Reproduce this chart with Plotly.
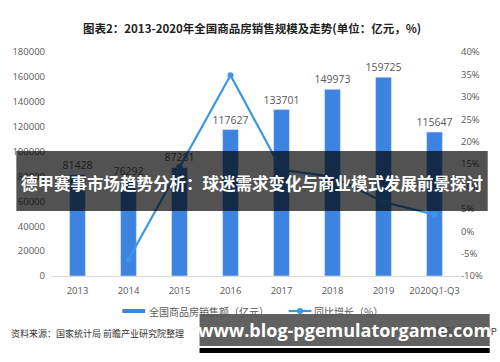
import plotly.graph_objects as go

categories = ["2013", "2014", "2015", "2016", "2017", "2018", "2019", "2020Q1-Q3"]
sales = [81428, 76292, 87281, 117627, 133701, 149973, 159725, 115647]
growth_cats = ["2014", "2015", "2016", "2017", "2018", "2019", "2020Q1-Q3"]
growth = [-6.3, 14.4, 34.8, 13.7, 12.2, 6.5, 3.7]
left_ticks = [0, 20000, 40000, 60000, 80000, 100000, 120000, 140000, 160000, 180000]
right_ticks = [-10, -5, 0, 5, 10, 15, 20, 25, 30, 35, 40]

W, H = 500, 362
L, R, T, B = 48, 40, 52, 86
PW, PH = W - L - R, H - T - B

def px(x):
    return (x - L) / PW

def py(y):
    return (H - B - y) / PH

BAR = "#3d83e1"
LINE = "#3a97e6"
GRAY = "#595959"
FONT = "Noto Sans CJK SC"
NUMF = "Open Sans"

fig = go.Figure()
fig.add_trace(go.Bar(
    x=categories, y=sales, marker_color=BAR, width=0.31,
    text=[str(v) for v in sales], textposition="outside", constraintext="none",
    textfont=dict(size=10.5, color=GRAY, family=NUMF),
    cliponaxis=False, showlegend=False,
))
fig.add_trace(go.Scatter(
    x=growth_cats, y=growth, yaxis="y2", mode="lines+markers",
    line=dict(color=LINE, width=2.2), marker=dict(size=6, color=LINE),
    showlegend=False,
))

fig.update_layout(
    width=W, height=H, margin=dict(l=L, r=R, t=T, b=B),
    paper_bgcolor="white", plot_bgcolor="white",
    font=dict(family=FONT, color=GRAY, size=10),
    xaxis=dict(showgrid=False, showline=True, linecolor="#d9d9d9", linewidth=1,
               ticks="", ticklabelstandoff=6,
               tickfont=dict(size=9.5, family=NUMF, color=GRAY)),
    yaxis=dict(range=[0, 180000], tickmode="array", tickvals=left_ticks,
               ticktext=[str(v) for v in left_ticks], showgrid=False, zeroline=False,
               tickfont=dict(size=9.5, family=NUMF, color=GRAY), ticklabelstandoff=6),
    yaxis2=dict(range=[-10, 40], tickmode="array", tickvals=right_ticks,
                ticktext=[f"{v}%" for v in right_ticks], overlaying="y", side="right",
                showgrid=False, zeroline=False,
                tickfont=dict(size=9.5, family=NUMF, color=GRAY)),
)

shapes = []
ann = []
# Title
ann.append(dict(x=px(250), y=py(28), xref="paper", yref="paper", showarrow=False,
                text="<b>图表2：2013-2020年全国商品房销售规模及走势(单位：亿元，%)</b>",
                font=dict(size=11.5, color="#222222", family=FONT), xanchor="center", yanchor="middle"))
# Legend
shapes.append(dict(type="rect", xref="paper", yref="paper", x0=px(119), x1=px(142),
                   y0=py(313), y1=py(309), fillcolor=BAR, line_width=0))
ann.append(dict(x=px(144), y=py(311), xref="paper", yref="paper", showarrow=False,
                text="全国商品房销售额（亿元）", font=dict(size=10, color=GRAY),
                xanchor="left", yanchor="middle"))
shapes.append(dict(type="line", xref="paper", yref="paper", x0=px(287), x1=px(310),
                   y0=py(311), y1=py(311), line=dict(color=LINE, width=2.2)))
shapes.append(dict(type="circle", xref="paper", yref="paper", x0=px(295.5), x1=px(301.5),
                   y0=py(314), y1=py(308), fillcolor=LINE, line_width=0))
ann.append(dict(x=px(311), y=py(311), xref="paper", yref="paper", showarrow=False,
                text="同比增长（%）", font=dict(size=10, color=GRAY),
                xanchor="left", yanchor="middle"))
# Source
ann.append(dict(x=px(5), y=py(333), xref="paper", yref="paper", showarrow=False,
                text="资料来源：国家统计局 前瞻产业研究院整理", font=dict(size=9, color="#333333"),
                xanchor="left", yanchor="middle"))
ann.append(dict(x=px(499), y=py(331), xref="paper", yref="paper", showarrow=False,
                text="©前瞻经济学人APP", font=dict(size=9.5, color="#444444"),
                xanchor="right", yanchor="middle"))

# Overlay band
shapes.append(dict(type="rect", xref="paper", yref="paper", x0=px(12), x1=px(488),
                   y0=py(211), y1=py(151), fillcolor="rgba(0,0,0,0.68)", line_width=0, layer="above"))
ann.append(dict(x=px(250), y=py(183), xref="paper", yref="paper", showarrow=False,
                text="<b>德甲赛事市场趋势分析：球迷需求变化与商业模式发展前景探讨</b>",
                font=dict(size=16.5, color="white", family=FONT), xanchor="center", yanchor="middle"))
# Bottom URL box
shapes.append(dict(type="rect", xref="paper", yref="paper", x0=px(197), x1=px(490),
                   y0=py(346), y1=py(314), fillcolor="rgba(80,80,80,0.9)", line_width=0, layer="above"))
shapes.append(dict(type="rect", xref="paper", yref="paper", x0=px(197), x1=px(490),
                   y0=py(353), y1=py(348), fillcolor="#000000", line_width=0, layer="above"))
ann.append(dict(x=px(343), y=py(330), xref="paper", yref="paper", showarrow=False,
                text="<b>www.blog-pgemulatorgame.com</b>",
                font=dict(size=18, color="white", family=NUMF), xanchor="center", yanchor="middle"))

fig.update_layout(shapes=shapes, annotations=ann)
fig.write_html("out.html")
